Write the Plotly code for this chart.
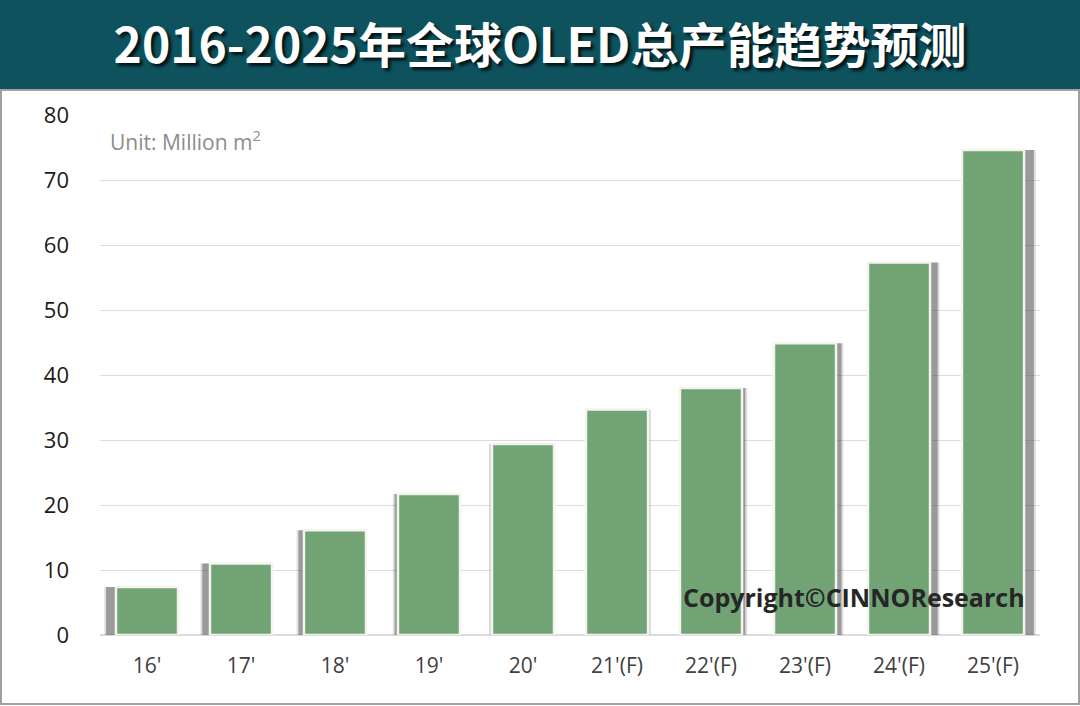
import plotly.graph_objects as go

years = ["16'", "17'", "18'", "19'", "20'", "21'(F)", "22'(F)", "23'(F)", "24'(F)", "25'(F)"]
capacity = [7.4, 11.0, 16.1, 21.7, 29.4, 34.7, 38.0, 44.9, 57.3, 74.6]

# plot area in pixels: x 100..1040, y 115..635
L, R, T, B = 100, 1040, 115, 635
W, H = 1080, 706


def px_x(p):
    return (p - L) / (R - L)


def px_y(p):
    return (B - p) / (B - T)


# shadow leans left on the early bars and right on the later ones
n = len(years)
bar_w = 0.66
lean = [0.105 * (i - (n - 1) / 2) / ((n - 1) / 2) for i in range(n)]

fig = go.Figure()

# two layers of shadow give a soft edge
for w, alpha in [(0.70, 0.18), (0.66, 0.45)]:
    fig.add_trace(go.Bar(
        x=years, y=capacity,
        marker=dict(color=f"rgba(70,70,70,{alpha})", line=dict(width=0)),
        width=w, offset=[-w / 2 + s for s in lean],
        hoverinfo="skip", showlegend=False,
    ))

fig.add_trace(go.Bar(
    x=years, y=capacity,
    marker=dict(color="#71A375", line=dict(color="#F4F4EE", width=2.5)),
    width=bar_w, showlegend=False,
))

fig.update_layout(
    width=W, height=H,
    margin=dict(l=L, r=W - R, t=T, b=H - B),
    paper_bgcolor="white", plot_bgcolor="white",
    barmode="overlay",
    font=dict(family="Open Sans, Noto Sans, sans-serif"),
    title=dict(
        text="<b>2016-2025年全球OLED总产能趋势预测</b>",
        x=0.5, xanchor="center", y=1 - 46 / H, yanchor="middle",
        font=dict(family="Noto Sans CJK SC", size=48, color="white",
                  shadow="3px 3px 3px rgba(0,0,0,0.75)"),
    ),
    xaxis=dict(
        tickfont=dict(size=21, color="#404040"),
        showline=False, ticks="", showgrid=False,
        ticklabelstandoff=16,
    ),
    yaxis=dict(
        range=[0, 80], dtick=10,
        tickfont=dict(size=22, color="#1a1a1a"),
        gridcolor="#DCDCDC", gridwidth=1.2,
        zeroline=True, zerolinecolor="#DCDCDC", zerolinewidth=1.5,
        ticks="", ticklabelstandoff=30,
    ),
    shapes=[
        dict(type="rect", xref="paper", yref="paper",
             x0=px_x(0), x1=px_x(W), y0=px_y(90), y1=px_y(0),
             fillcolor="#0E525E", line=dict(width=0), layer="below"),
        dict(type="rect", xref="paper", yref="paper",
             x0=px_x(1), x1=px_x(W - 1), y0=px_y(H - 2), y1=px_y(90),
             fillcolor="rgba(0,0,0,0)", line=dict(color="#A0A0A0", width=2)),
    ],
    annotations=[
        dict(text="Unit: Million m<sup>2</sup>", xref="paper", yref="paper",
             x=px_x(108), y=px_y(140), xanchor="left", yanchor="middle",
             showarrow=False, font=dict(size=21, color="#8C8C8C")),
        dict(text="<b>Copyright©CINNOResearch</b>", xref="paper", yref="paper",
             x=px_x(1027), y=px_y(597), xanchor="right", yanchor="middle",
             showarrow=False, font=dict(size=25, color="#262626")),
    ],
)

fig.write_html("out.html", config={"displayModeBar": False},
               post_script="document.body.style.margin='0';")
